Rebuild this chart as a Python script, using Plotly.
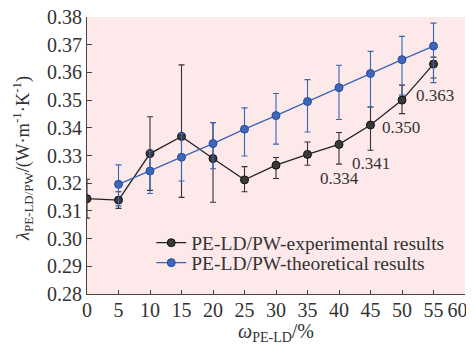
import plotly.graph_objects as go

# Data
x_exp = [0, 5, 10, 15, 20, 25, 30, 35, 40, 45, 50, 55]
y_exp = [0.3144, 0.3139, 0.3307, 0.3369, 0.3289, 0.3212, 0.3265, 0.3304, 0.3340, 0.3410, 0.3500, 0.3630]
exp_err_plus = [0.0070, 0.0030, 0.0133, 0.0258, 0.0129, 0.0048, 0.0028, 0.0045, 0.0043, 0.0065, 0.0054, 0.0025]
exp_err_minus = [0.0070, 0.0030, 0.0133, 0.0220, 0.0158, 0.0043, 0.0048, 0.0039, 0.0071, 0.0091, 0.0049, 0.0050]

x_theo = [5, 10, 15, 20, 25, 30, 35, 40, 45, 50, 55]
y_theo = [0.3196, 0.3244, 0.3294, 0.3343, 0.3395, 0.3444, 0.3495, 0.3545, 0.3596, 0.3646, 0.3695]
theo_err_plus = [0.0070, 0.0072, 0.0086, 0.0076, 0.0077, 0.0080, 0.0079, 0.0081, 0.0080, 0.0084, 0.0083]
theo_err_minus = [0.0078, 0.0081, 0.0086, 0.0091, 0.0097, 0.0103, 0.0110, 0.0115, 0.0121, 0.0128, 0.0132]

label_texts = ["0.334", "0.341", "0.350", "0.363"]
label_x = [40.1, 45.0, 49.9, 55.2]
label_y = [0.3218, 0.3272, 0.3402, 0.3518]

x_ticks = list(range(0, 61, 5))
y_ticks = [round(0.28 + 0.01 * i, 2) for i in range(11)]

FONT = "Liberation Serif, Times New Roman, serif"
TXT = "#333333"

# last x tick label is nudged left (as in the reference) with trailing no-break spaces
x_ticktext = [str(v) for v in x_ticks]
x_ticktext[-1] = x_ticktext[-1] + "\u00a0\u00a0\u00a0"

fig = go.Figure()

fig.add_trace(go.Scatter(
    x=x_exp, y=y_exp, mode="lines+markers",
    name="PE-LD/PW-experimental results", legend="legend",
    line=dict(color="#222222", width=1.3),
    marker=dict(size=8, color="#3a3a3a", line=dict(color="#111111", width=1)),
    error_y=dict(type="data", symmetric=False, array=exp_err_plus, arrayminus=exp_err_minus,
                 color="#333333", thickness=1.1, width=3),
))

fig.add_trace(go.Scatter(
    x=x_theo, y=y_theo, mode="lines+markers",
    name="PE-LD/PW-theoretical results", legend="legend2",
    line=dict(color="#3a64b4", width=1.3),
    marker=dict(size=8, color="#3d67bd", line=dict(color="#2a4c94", width=1)),
    error_y=dict(type="data", symmetric=False, array=theo_err_plus, arrayminus=theo_err_minus,
                 color="#3a64b4", thickness=1.1, width=3),
))

for t, lx, ly in zip(label_texts, label_x, label_y):
    fig.add_annotation(x=lx, y=ly, text=t, showarrow=False,
                       font=dict(family=FONT, size=17, color=TXT))

# axis titles as annotations for precise placement
fig.add_annotation(xref="paper", yref="paper", x=0.5, y=-0.138, xanchor="center", yanchor="middle",
                   text="<i>ω</i><sub>PE-LD</sub>/%", showarrow=False,
                   font=dict(family=FONT, size=20, color=TXT))
fig.add_annotation(xref="paper", yref="paper", x=-0.17, y=0.49, xanchor="center", yanchor="middle",
                   textangle=-90,
                   text="<i>λ</i><sub>PE-LD/PW</sub>/(W·m<sup>-1</sup>·K<sup>-1</sup>)", showarrow=False,
                   font=dict(family=FONT, size=18.5, color=TXT))

legend_common = dict(xanchor="left", yanchor="middle", bgcolor="rgba(0,0,0,0)",
                     font=dict(family=FONT, size=19.5, color=TXT), itemwidth=30)

fig.update_layout(
    width=466, height=336,
    margin=dict(l=79, r=9, t=9, b=50, autoexpand=False),
    paper_bgcolor="white",
    plot_bgcolor="#fde9ea",
    font=dict(family=FONT, size=20, color=TXT),
    showlegend=True,
    legend=dict(x=0.17, y=0.184, **legend_common),
    legend2=dict(x=0.17, y=0.112, **legend_common),
)

fig.update_xaxes(
    range=[0, 60], tickvals=x_ticks, ticktext=x_ticktext,
    showgrid=False, zeroline=False, showline=True, linecolor="#444444", linewidth=1.2,
    ticks="inside", ticklen=4, tickcolor="#444444", automargin=False,
    ticklabelstandoff=-2, ticklabeloverflow="allow",
    tickfont=dict(family=FONT, size=20, color=TXT),
)

fig.update_yaxes(
    range=[0.28, 0.38], tickvals=y_ticks, ticktext=[f"{v:.2f}" for v in y_ticks],
    showgrid=False, zeroline=False, showline=True, linecolor="#444444", linewidth=1.2,
    ticks="inside", ticklen=5, tickcolor="#444444", automargin=False,
    ticklabeloverflow="allow",
    tickfont=dict(family=FONT, size=20, color=TXT),
)

fig.write_html("out.html")
